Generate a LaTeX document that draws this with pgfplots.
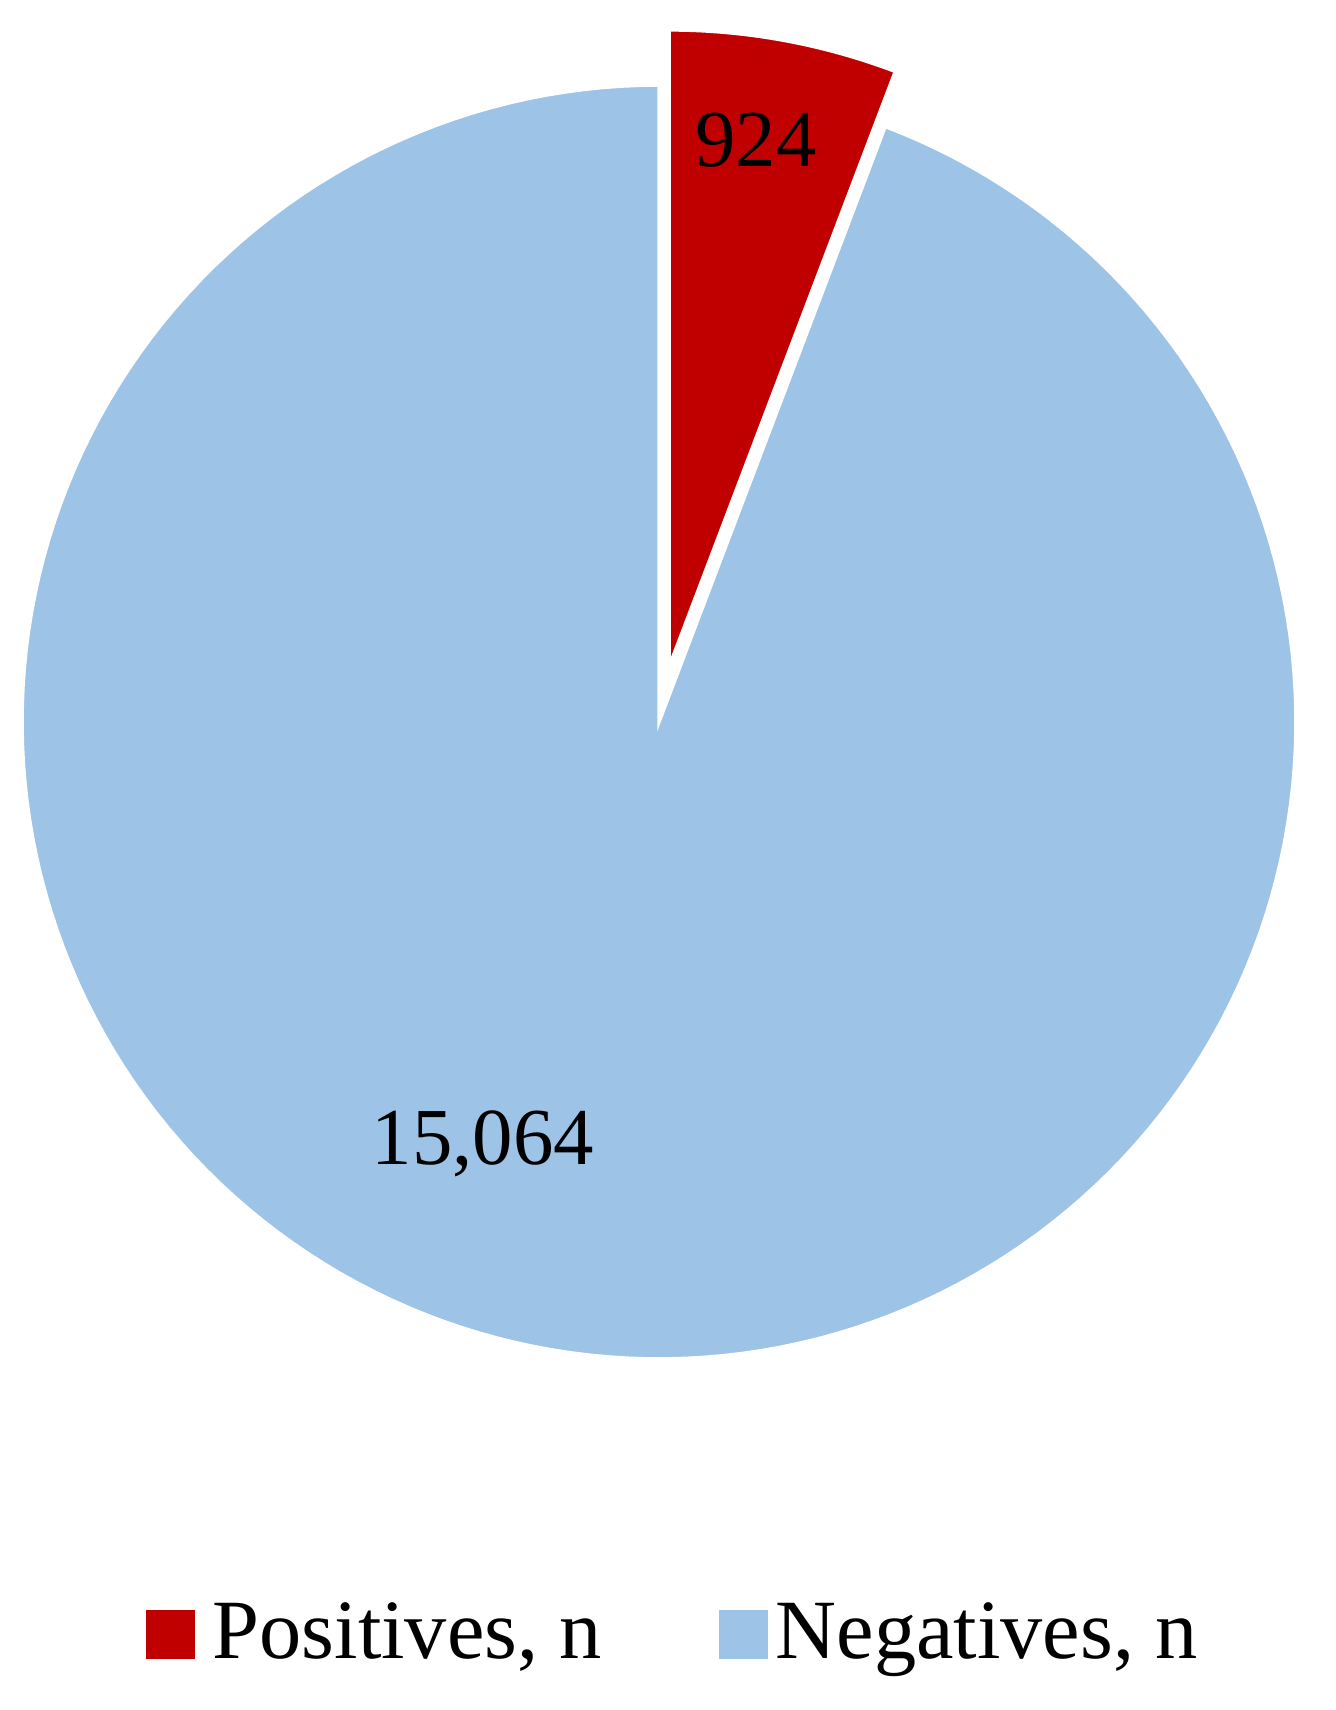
\documentclass[border=0pt]{standalone}
\usepackage{fontspec}
\setmainfont{Liberation Serif}
\usepackage{pgfplots}
\pgfplotsset{compat=1.18}

\definecolor{posred}{HTML}{C00000}
\definecolor{negblue}{HTML}{9DC3E6}

% counts
\def\npos{924}
\def\nneg{15064}

\begin{document}
\begin{tikzpicture}
\path[use as bounding box] (0,0) rectangle (13.35cm,17.1cm);
\pgfmathsetmacro\frac{\npos/(\npos+\nneg)}
\pgfmathsetmacro\angpos{360*\frac}
\pgfmathsetmacro\angstart{90-\angpos}
\pgfmathsetmacro\angend{450-\angpos}
\pgfmathsetmacro\angmid{90-\angpos/2}
% pie centre and radius (axis units = pixels)
\def\cx{659}
\def\cy{988}
\def\R{637}
\pgfmathsetmacro\rx{\cx+56*cos(\angmid)}
\pgfmathsetmacro\ry{\cy+56*sin(\angmid)}
\begin{axis}[
    at={(0,0)}, anchor=south west,
    scale only axis,
    width=13.35cm, height=17.1cm,
    xmin=0, xmax=1335, ymin=0, ymax=1710,
    hide axis,
    clip=false,
    legend image code/.code={\fill[#1,draw=none] (0cm,-0.29cm) rectangle (0.49cm,0.2cm);},
    legend columns=2,
    legend style={draw=none, fill=none, inner sep=0pt,
        at={(axis cs:145,50)}, anchor=south west,
        font=\fontsize{24}{28}\selectfont,
        /tikz/every even column/.append style={column sep=1.17cm},
        nodes={inner sep=0pt, text depth=0pt}},
    legend cell align=left,
]
  % Positives, exploded
  \addplot[fill=posred, draw=white, line width=0.035cm, domain=\angstart:90, samples=30, variable=\t]
    ({\rx+\R*cos(\t)}, {\ry+\R*sin(\t)}) -- (\rx,\ry) -- cycle;
  \addlegendentry{\hspace{0.18cm}Positives, n}
  % Negatives
  \addplot[fill=negblue, draw=white, line width=0.035cm, domain=90:\angend, samples=200, variable=\t]
    ({\cx+\R*cos(\t)}, {\cy+\R*sin(\t)}) -- (\cx,\cy) -- cycle;
  \addlegendentry{\hspace{0.08cm}Negatives, n}

  \node[anchor=base, font=\fontsize{23}{27}\selectfont] at (axis cs:756,1543) {924};
  \node[anchor=base, font=\fontsize{23}{27}\selectfont] at (axis cs:483,545) {15,064};
\end{axis}
\end{tikzpicture}
\end{document}
